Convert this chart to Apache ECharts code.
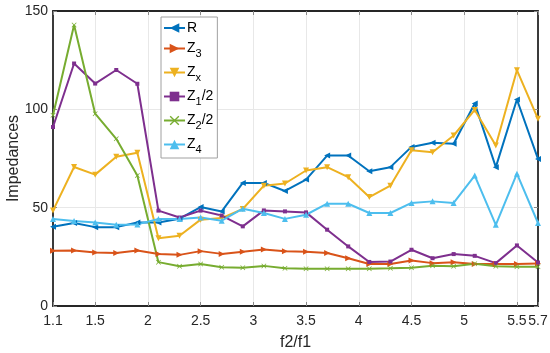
<!DOCTYPE html>
<html><head><meta charset="utf-8">
<script src="https://cdn.jsdelivr.net/npm/echarts@6/dist/echarts.min.js"></script>
<style>html,body{margin:0;padding:0;background:#fff}#c{width:550px;height:353px}</style>
</head><body><div id="c"></div>
<script>
const xVals = [1.1,1.3,1.5,1.7,1.9,2.1,2.3,2.5,2.7,2.9,3.1,3.3,3.5,3.7,3.9,4.1,4.3,4.5,4.7,4.9,5.1,5.3,5.5,5.7];
const xTicks = [1.1,1.5,2,2.5,3,3.5,4,4.5,5,5.5,5.7];
const yTicks = [0,50,100,150];
const seriesNames = ['R','Z3','Zx','Z1/2','Z2/2','Z4'];
const R  = [40.3,42.2,40.1,40.1,42.5,42.5,44.4,50.3,48.1,62.6,62.6,58.5,64.3,76.5,76.5,68.5,70.6,80.9,83,82.5,103,70.6,105,74.8];
const Z3 = [28.1,28.2,27.2,27,28.2,26.4,26,27.9,26.5,27.6,28.7,27.8,27.6,26.9,24.3,21.4,21.4,23.1,21.8,22.3,21.4,21.4,21.4,21.6];
const Zx = [48.5,70.7,66.8,75.9,77.9,34.5,35.7,43.9,44.7,49.3,61.2,62.3,68.9,70.6,65.5,55.4,61.2,79.2,78.2,86.7,99.7,81.6,119.9,95.2];
const Z1half = [91,123.3,113.1,120,113,48.5,45,48.5,46,40.5,48.6,48.1,47.6,38.8,30.3,22.4,22.6,28.6,24.3,26.4,25.5,21.8,30.8,22.1];
const Z2half = [97,142.9,97.8,85,66.3,22.3,20.2,21.4,19.7,19.5,20.4,19.2,19,19,19,19,19.2,19.5,20.5,20.2,21.5,20.2,20,20];
const Z4 = [44.2,43.2,42.5,41.3,41.5,44.2,44.2,45,43.4,49.5,47.3,44.3,46.4,52,52,47.3,47.3,52.4,53.2,52.4,66.3,41.3,67.3,42.2];

const colors = ['#0072BD','#D95319','#EDB120','#7E2F8E','#77AC30','#4DBEEE'];
const values = [R, Z3, Zx, Z1half, Z2half, Z4];
const symbols = ['triangle','triangle','triangle','rect','path://M0,1L1,0L5,4L9,0L10,1L6,5L10,9L9,10L5,6L1,10L0,9L4,5Z','triangle'];
const rotates = [90,-90,180,0,0,0];
const sizes = [6,6,6,4,5,6];
const legendRich = {
  'R':'R', 'Z3':'Z{s|3}', 'Zx':'Z{s|x}', 'Z1/2':'Z{s|1}/2', 'Z2/2':'Z{s|2}/2', 'Z4':'Z{s|4}'
};
const font = 'Liberation Sans, Arial, sans-serif';
const axisCol = '#262626';

const chart = echarts.init(document.getElementById('c'));
const series = seriesNames.map((n,k)=>({
  name:n, type:'line', xAxisIndex:0, yAxisIndex:0,
  data: xVals.map((x,i)=>[x, values[k][i]]),
  symbol:symbols[k], symbolRotate:rotates[k], symbolSize:sizes[k],
  showSymbol:true,
  lineStyle:{color:colors[k], width:2},
  itemStyle:{color:colors[k]},
  emphasis:{disabled:true}
}));
chart.setOption({
  animation:false,
  color:colors,
  grid:{left:53, right:12, top:11, bottom:47, show:false, containLabel:false, outerBoundsMode:'none'},
  legend:{
    orient:'vertical', left:161, top:17,
    data:seriesNames,
    backgroundColor:'#fff', borderColor:'#a0a0a0', borderWidth:1, borderRadius:0,
    padding:[4,4,3,2],
    itemWidth:21, itemHeight:12, itemGap:6.5,
    formatter:n=>legendRich[n],
    textStyle:{fontFamily:font, fontSize:14, color:'#000', padding:[0,0,0,-3],
      rich:{s:{fontFamily:font, fontSize:11, verticalAlign:'bottom', padding:[10,0,0,0], color:'#000'}}}
  },
  xAxis:[{
    type:'value', min:1.1, max:5.7, position:'bottom',
    name:'f2/f1', nameLocation:'middle', nameGap:29, nameMoveOverlap:false,
    nameTextStyle:{fontFamily:font, fontSize:16, color:axisCol},
    axisLine:{show:true, onZero:false, lineStyle:{color:axisCol, width:1.8}},
    axisTick:{show:true, inside:true, length:4, customValues:xTicks, lineStyle:{color:'#888'}},
    axisLabel:{customValues:xTicks, fontFamily:font, fontSize:14, color:axisCol, margin:8, formatter:v=>String(v)},
    splitLine:{show:true, lineStyle:{color:'#e8e8e8', width:1}}
  },{
    type:'value', min:1.1, max:5.7, position:'top',
    axisLine:{show:true, onZero:false, lineStyle:{color:axisCol, width:1.8}},
    axisTick:{show:true, inside:true, length:4, customValues:xTicks, lineStyle:{color:'#888'}},
    axisLabel:{show:false}, splitLine:{show:false}
  }],
  yAxis:[{
    type:'value', min:0, max:150, interval:50, position:'left',
    name:'Impedances', nameLocation:'middle', nameGap:31, nameRotate:90, nameMoveOverlap:false,
    nameTextStyle:{fontFamily:font, fontSize:16, color:axisCol},
    axisLine:{show:true, onZero:false, lineStyle:{color:axisCol, width:1.8}},
    axisTick:{show:true, inside:true, length:4, lineStyle:{color:'#888'}},
    axisLabel:{fontFamily:font, fontSize:14, color:axisCol, margin:5},
    splitLine:{show:true, lineStyle:{color:'#e8e8e8', width:1}}
  },{
    type:'value', min:0, max:150, interval:50, position:'right',
    axisLine:{show:true, onZero:false, lineStyle:{color:axisCol, width:1.8}},
    axisTick:{show:true, inside:true, length:4, lineStyle:{color:'#888'}},
    axisLabel:{show:false}, splitLine:{show:false}
  }],
  series:series
});
</script></body></html>
